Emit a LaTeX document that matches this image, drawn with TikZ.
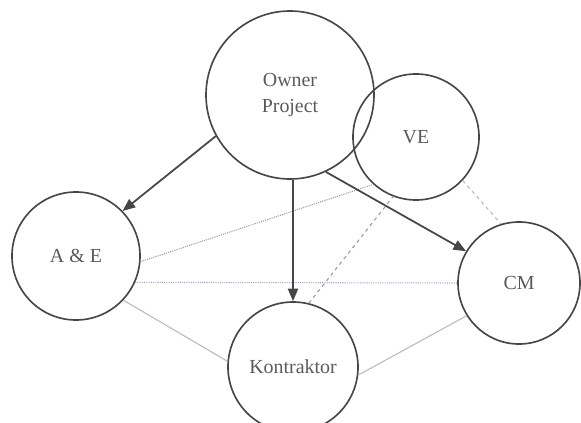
\documentclass[tikz,border=0pt]{standalone}
\usepackage{xcolor}
\usepackage{fontspec}
\setmainfont{Liberation Serif}
\usepackage{tikz}
\usetikzlibrary{arrows}
\definecolor{partyline}{RGB}{70,70,70}
\definecolor{partytext}{RGB}{90,90,90}
\definecolor{linkgray}{RGB}{185,185,185}
\definecolor{linkblue}{RGB}{165,160,205}

\begin{document}
\begin{tikzpicture}[
    x=0.03cm, y=-0.03cm,
    every node/.style={font=\fontsize{17}{22}\selectfont, text=partytext},
    party/.style={circle, draw=partyline, line width=1.4pt, inner sep=0pt, align=center},
    flow/.style={-triangle 45, draw=partyline, line width=1.5pt},
    link/.style={draw=linkgray, line width=0.9pt}
]
\useasboundingbox (0,0) rectangle (581,423);

\node[party, minimum size=5.04cm] (owner) at (290,95) {Owner\\Project};
\node[party, minimum size=3.78cm] (ve) at (416,137) {VE};
\node[party, minimum size=3.84cm] (ae) at (76,256) {A \& E};
\node[party, minimum size=3.9cm] (kontraktor) at (293,367) {Kontraktor};
\node[party, minimum size=3.66cm] (cm) at (519,283) {CM};

\draw[link, densely dotted, draw=linkblue!60!gray] (ae.-5) -- (ve.228);
\draw[link, densely dotted, draw=linkblue] (ae.-24) -- (cm.180);
\draw[link] (ae.-43) -- (kontraktor.175);
\draw[link] (kontraktor.-7) -- (cm.212);
\draw[link, dashed, draw=gray!80] (kontraktor.76) -- (ve.249);
\draw[link, dashed] (ve.-43) -- (cm.107);

\draw[flow] (owner.209) -- (ae.44);
\draw[flow] (owner.-88) -- (kontraktor.north);
\draw[flow] (owner.-65) -- (cm.149);

\end{tikzpicture}
\end{document}
